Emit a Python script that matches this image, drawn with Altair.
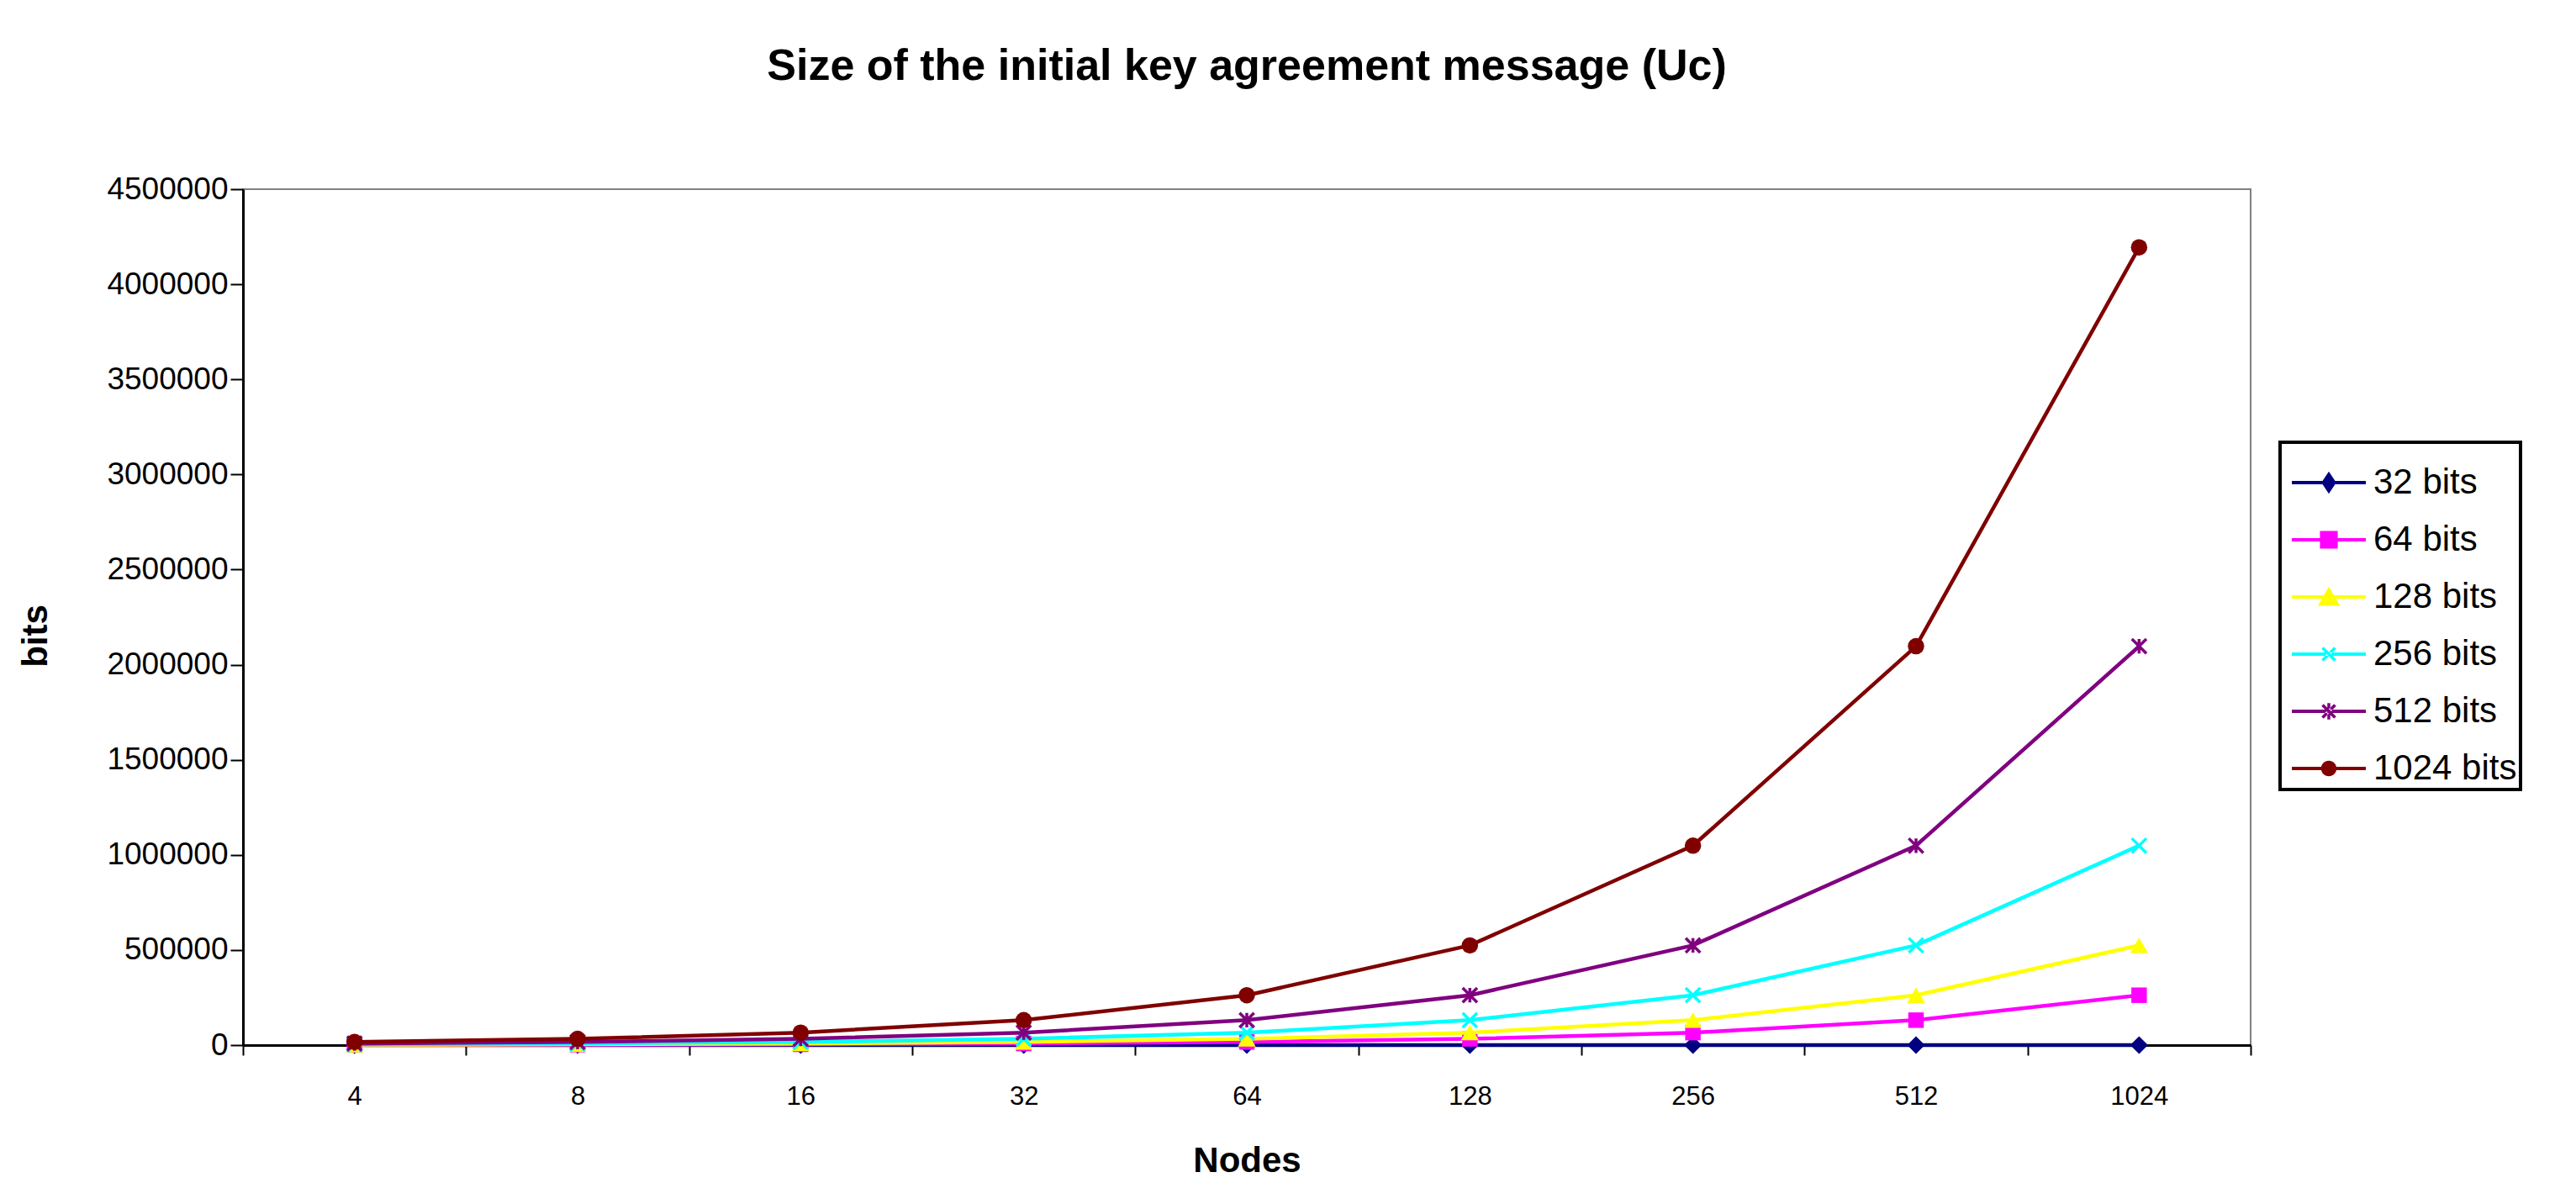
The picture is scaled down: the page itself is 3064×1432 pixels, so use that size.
import altair as alt
import pandas as pd

# ---- data ----
nodes = ["4", "8", "16", "32", "64", "128", "256", "512", "1024"]
series_names = ["32 bits", "64 bits", "128 bits", "256 bits", "512 bits", "1024 bits"]
bits_32 = [0, 0, 0, 0, 0, 0, 0, 0, 0]
bits_64 = [1024, 2048, 4096, 8192, 16384, 32768, 65536, 131072, 262144]
bits_128 = [2048, 4096, 8192, 16384, 32768, 65536, 131072, 262144, 524288]
bits_256 = [4096, 8192, 16384, 32768, 65536, 131072, 262144, 524288, 1048576]
bits_512 = [8192, 16384, 32768, 65536, 131072, 262144, 524288, 1048576, 2097152]
bits_1024 = [16384, 32768, 65536, 131072, 262144, 524288, 1048576, 2097152, 4194304]
y_ticks = [0, 500000, 1000000, 1500000, 2000000, 2500000, 3000000, 3500000, 4000000, 4500000]

colors = ["#000080", "#FF00FF", "#FFFF00", "#00FFFF", "#800080", "#800000"]

all_vals = [bits_32, bits_64, bits_128, bits_256, bits_512, bits_1024]
rows = []
for name, vals in zip(series_names, all_vals):
    for n, v in zip(nodes, vals):
        rows.append({"nodes": n, "series": name, "value": v})
df = pd.DataFrame(rows)

FONT = "Liberation Sans"

X_PATH = "M-1,-1L1,1M-1,1L1,-1"
STAR_PATH = "M-1,-1L1,1M-1,1L1,-1M0,-1L0,1"
marker_specs = [
    ("diamond", True, 450),
    ("square", True, 340),
    ("triangle-up", True, 450),
    (X_PATH, False, 300),
    (STAR_PATH, False, 300),
    ("circle", True, 380),
]

# legend symbols: a line with the marker on it (unit = half the symbol width)
LINE = "M-1,-0.045H1V0.045H-1Z"
XS = "M-0.2,-0.14L-0.14,-0.2L0.2,0.14L0.14,0.2Z" + "M0.2,-0.14L0.14,-0.2L-0.2,0.14L-0.14,0.2Z"
legend_paths = [
    LINE + "M0,-0.3L0.2,0L0,0.3L-0.2,0Z",
    LINE + "M-0.24,-0.24H0.24V0.24H-0.24Z",
    LINE + "M0,-0.28L0.3,0.24H-0.3Z",
    LINE + XS,
    LINE + XS + "M-0.04,-0.22H0.04V0.22H-0.04Z",
    LINE + "M0.21,0A0.21,0.21 0 1,1 -0.21,0A0.21,0.21 0 1,1 0.21,0Z",
]

x_enc = alt.X(
    "nodes:O",
    sort=nodes,
    bandPosition=0.5,
    scale=alt.Scale(type="band", paddingInner=0, paddingOuter=0),
    axis=alt.Axis(
        title="Nodes",
        labelAngle=0,
        tickBand="extent",
        grid=False,
        domainColor="black",
        domainWidth=3,
        tickColor="black",
        tickWidth=2,
        tickSize=12,
        labelPadding=34,
        labelFont=FONT,
        labelFontSize=31,
        labelColor="black",
        titleFont=FONT,
        titleFontSize=42,
        titleFontWeight="bold",
        titleColor="black",
        titleY=137,
        titleBaseline="middle",
    ),
)
y_enc = alt.Y(
    "value:Q",
    scale=alt.Scale(domain=[0, 4500000], nice=False),
    axis=alt.Axis(
        title="bits",
        values=y_ticks,
        format="d",
        grid=False,
        domainColor="black",
        domainWidth=3,
        tickColor="black",
        tickWidth=2,
        tickSize=15,
        labelPadding=3,
        labelFont=FONT,
        labelFontSize=37,
        labelColor="black",
        titleFont=FONT,
        titleFontSize=42,
        titleFontWeight="bold",
        titleColor="black",
        titleX=-247,
        titleY=531,
        titleAlign="center",
        titleBaseline="middle",
    ),
)

base = alt.Chart(df)

legend_def = alt.Legend(
    title=None,
    orient="none",
    legendX=2423,
    legendY=301,
    padding=4,
    rowPadding=3,
    symbolOffset=10,
    symbolSize=7744,
    symbolStrokeWidth=0,
    symbolOpacity=1,
    labelFont=FONT,
    labelFontSize=42,
    labelColor="black",
    labelOffset=9,
    labelLimit=400,
    strokeColor="black",
)
# invisible (zero-size) layer that carries the legend, drawn underneath everything
legend_layer = base.mark_point(filled=True, size=0).encode(
    x=x_enc,
    y=y_enc,
    color=alt.Color("series:N", sort=series_names, scale=alt.Scale(domain=series_names, range=colors), legend=legend_def),
    shape=alt.Shape("series:N", sort=series_names, scale=alt.Scale(domain=series_names, range=legend_paths), legend=legend_def),
)
layers = [legend_layer]
for name, color, (shape, filled, size) in zip(series_names, colors, marker_specs):
    sub = base.transform_filter(alt.datum.series == name)
    layers.append(sub.mark_line(color=color, strokeWidth=4.5).encode(x=x_enc, y=y_enc))
    layers.append(
        sub.mark_point(shape=shape, filled=filled, color=color, size=size, strokeWidth=3.5, opacity=1).encode(
            x=x_enc, y=y_enc
        )
    )

chart = (
    alt.layer(*layers)
    .properties(
        width=2388,
        height=1018,
        autosize=alt.AutoSizeParams(type="none"),
        padding={"left": 281, "top": 217, "right": 370, "bottom": 180},
        title=alt.Title(
            "Size of the initial key agreement message (Uc)",
            font=FONT,
            fontSize=52,
            fontWeight="bold",
            color="black",
            offset=59,
            baseline="alphabetic",
            frame="group",
            anchor="middle",
        ),
    )
    .configure_view(stroke="#808080", strokeWidth=2)
    .configure_legend(strokeWidth=4)
)

chart.save("out.html", embed_options={"renderer": "svg", "actions": False})
